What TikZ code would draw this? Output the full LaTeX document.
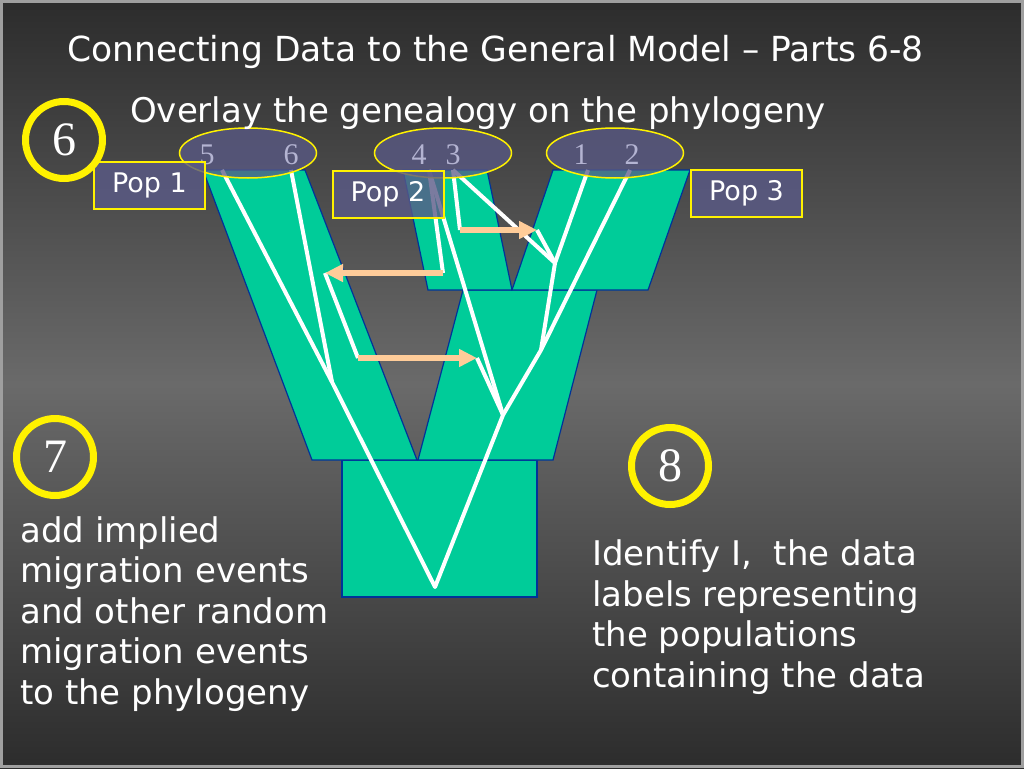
\documentclass[tikz,border=0pt]{standalone}
\usepackage{fontspec}
\setmainfont{DejaVu Sans}
\newfontfamily\numfont{Liberation Serif}
\usepackage{tikz}
\usetikzlibrary{arrows.meta,shapes.geometric}
\definecolor{phylo}{RGB}{0,204,153}
\definecolor{phyloedge}{RGB}{0,51,153}
\definecolor{slate}{RGB}{90,90,135}
\definecolor{peach}{RGB}{255,204,153}
\definecolor{tipgray}{RGB}{180,180,210}
\definecolor{bgdark}{RGB}{44,44,44}
\definecolor{bglight}{RGB}{106,106,106}
\tikzset{>=latex}
\tikzstyle{branch}=[fill=phylo,draw=phyloedge,line width=1.2pt]
\tikzstyle{lineage}=[white,line width=4pt,line join=round]
\tikzstyle{migration}=[-{Triangle[length=18pt,width=17pt]},peach,line width=6pt]
\tikzstyle{tipset}=[ellipse,draw=yellow,line width=1.5pt,fill=slate,fill opacity=0.75,minimum width=137pt,minimum height=50pt]
\tikzstyle{tiplabel}=[text=tipgray,font=\numfont\fontsize{30}{30}\selectfont,inner sep=0pt]
\tikzstyle{popbox}=[draw=yellow,line width=2pt,fill=slate,fill opacity=0.8,text opacity=1,text=white,minimum width=111pt,minimum height=47pt,font=\fontsize{27}{27}\selectfont]
\tikzstyle{stepring}=[circle,draw=yellow,line width=7pt,minimum size=77pt,inner sep=0pt,text=white,font=\numfont\fontsize{48}{48}\selectfont]
\tikzstyle{slidetext}=[text=white,inner sep=0pt,font=\fontsize{34}{40.5}\selectfont]

\begin{document}
\begin{tikzpicture}[x=1pt,y=-1pt]

  \useasboundingbox (0,0) rectangle (1024,768);
  \shade[top color=bgdark,bottom color=bgdark,middle color=bglight] % background
    (0,0) rectangle (1024,768);
  \draw[gray!75,line width=3pt] (1.5,1.5) rectangle (1022.5,766.5);

  % phylogeny
  \draw[branch] (342,460) rectangle (537,597);
  \draw[branch] (203,170) -- (305,170) -- (417,460) -- (312,460) -- cycle;
  \draw[branch] (463,290) -- (597,290) -- (553,460) -- (418,460) -- cycle;
  \draw[branch] (403,170) -- (487,170) -- (512,290) -- (428,290) -- cycle;
  \draw[branch] (553,170) -- (690,170) -- (648,290) -- (512,290) -- cycle;

  % genealogy
  \coordinate (s5) at (222,170);
  \coordinate (s6) at (291,170);
  \coordinate (s4) at (429,170);
  \coordinate (s3) at (453,170);
  \coordinate (s1) at (588,170);
  \coordinate (s2) at (630,170);
  \coordinate (c56) at (332,382);
  \coordinate (c13) at (555,263);
  \coordinate (c123) at (541,350);
  \coordinate (c1234) at (503,415);
  \coordinate (root) at (435,587);
  \coordinate (m1a) at (443,273);
  \coordinate (m1b) at (325,273);
  \coordinate (m2a) at (358,358);
  \coordinate (m2b) at (477,358);
  \coordinate (m3a) at (460,230);
  \coordinate (m3b) at (537,230);

  \draw[lineage] (s5) -- (c56) -- (root) -- (c1234) -- (c123) -- (s2);
  \draw[lineage] (s6) -- (c56);
  \draw[lineage] (s4) -- (c1234);
  \draw[lineage] (s4) -- (m1a);
  \draw[lineage] (m1b) -- (m2a);
  \draw[lineage] (m2b) -- (c1234);
  \draw[lineage] (s3) -- (m3a);
  \draw[lineage] (s3) -- (c13) -- (c123);
  \draw[lineage] (m3b) -- (c13);
  \draw[lineage] (s1) -- (c13);

  \draw[migration] (m1a) -- (m1b);
  \draw[migration] (m2a) -- (m2b);
  \draw[migration] (m3a) -- (m3b);

  % samples
  \node[tipset] (pop1set) at (248,153) {};
  \node[tipset] (pop2set) at (443,153) {};
  \node[tipset] (pop3set) at (615,153) {};
  \foreach \x/\lab in {207/5,291/6,419/4,453/3,581/1,632/2}{
    \node[tiplabel] (tip\lab) at (\x,155) {\lab};
  }

  \node[popbox] (pop1) at (149.5,185.5) {Pop 1};
  \node[popbox] (pop2) at (388,194.5) {Pop 2};
  \node[popbox] (pop3) at (746.5,193.5) {Pop 3};

  % texts
  \node[slidetext,anchor=base west,font=\fontsize{34.5}{40.5}\selectfont] (title) at (67,62) {Connecting Data to the General Model – Parts 6-8};
  \node[slidetext,anchor=base west] (subtitle) at (130,122) {Overlay the genealogy on the phylogeny};
  \node[slidetext,anchor=base west,align=left] (addtext) at (20,704)
    {add implied\\migration events\\and other random\\migration events\\to the phylogeny};
  \node[slidetext,anchor=base west,align=left] (idtext) at (592,687)
    {Identify I,\ \ the data\\labels representing\\the populations\\containing the data};

  \node[stepring] (six) at (64,140) {6};
  \node[stepring] (seven) at (55,457) {7};
  \node[stepring] (eight) at (670,466) {8};

\end{tikzpicture}
\end{document}
